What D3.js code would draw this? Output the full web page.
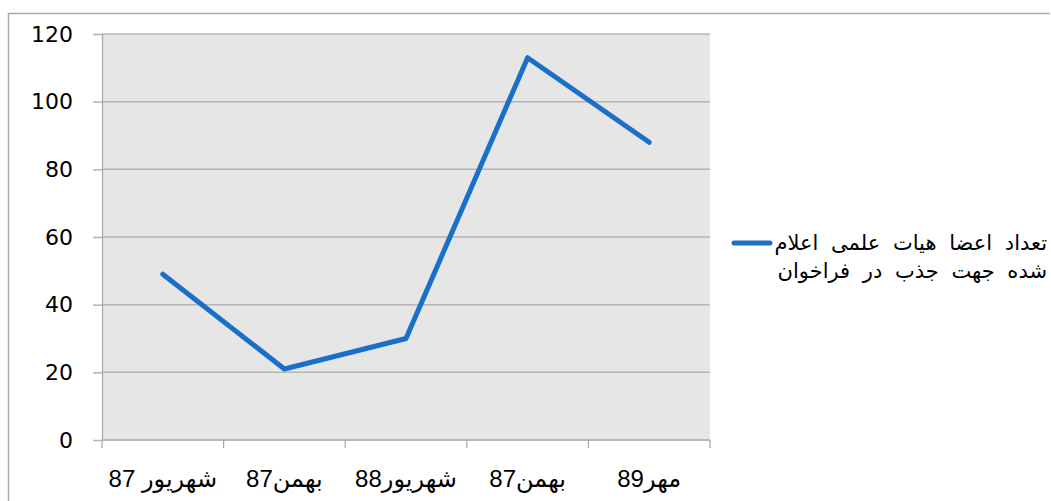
<!DOCTYPE html>
<html>
<head>
	<meta charset="utf-8">
	<script src="https://d3js.org/d3.v7.min.js"></script>
	<style>
		body { margin: 0; background: #fff; }
		svg { display: block; }
	</style>
</head>
<body>
	<svg id="chart" width="1051" height="501"></svg>
<script type="text/javascript">
	// data
	var categories = ['شهریور 87', 'بهمن87', 'شهریور88', 'بهمن87 ', 'مهر89'];
	var values = [49, 21, 30, 113, 88];
	var yTicks = [0, 20, 40, 60, 80, 100, 120];
	var legendLines = ['تعداد اعضا هیات علمی اعلام', 'شده جهت جذب در فراخوان'];

	var svg = d3.select('#chart');
	var plotL = 102, plotR = 710, plotT = 34, plotB = 440;

	// outer frame (only top and left edges visible)
	svg.append('path')
		.attr('d', 'M 8.5 501 L 8.5 13.5 L 1050 13.5')
		.attr('fill', 'none')
		.attr('stroke', '#a8a8a8')
		.attr('stroke-width', 1.5);

	var x = d3.scaleBand().domain(d3.range(categories.length)).range([plotL, plotR]);
	var y = d3.scaleLinear().domain([0, 120]).range([plotB, plotT]);

	svg.append('rect')
		.attr('x', plotL).attr('y', plotT)
		.attr('width', plotR - plotL).attr('height', plotB - plotT)
		.attr('fill', '#e6e6e6');

	// grid lines
	svg.append('g').selectAll('line')
		.data(yTicks)
		.enter().append('line')
		.attr('x1', plotL).attr('x2', plotR)
		.attr('y1', d => y(d)).attr('y2', d => y(d))
		.attr('stroke', '#b4b4b4')
		.attr('stroke-width', 1.5);

	// y axis
	var yAxis = svg.append('g')
		.attr('transform', 'translate(' + plotL + ',0)')
		.call(d3.axisLeft(y).tickValues(yTicks).tickSize(9).tickPadding(20));
	yAxis.select('.domain').attr('stroke', '#a6a6a6').attr('stroke-width', 1.2);
	yAxis.selectAll('.tick line').attr('stroke', '#b4b4b4').attr('stroke-width', 1.5);
	yAxis.selectAll('.tick text')
		.style('font-family', '"DejaVu Sans", sans-serif')
		.style('font-size', '22px')
		.attr('fill', '#000');

	// x axis: ticks between categories
	var xAxisG = svg.append('g');
	xAxisG.append('line')
		.attr('x1', plotL).attr('x2', plotR)
		.attr('y1', plotB).attr('y2', plotB)
		.attr('stroke', '#b4b4b4').attr('stroke-width', 1.5);
	xAxisG.selectAll('line.tk')
		.data(d3.range(categories.length + 1))
		.enter().append('line')
		.attr('class', 'tk')
		.attr('x1', i => i < categories.length ? x(i) : x(i - 1) + x.bandwidth())
		.attr('x2', i => i < categories.length ? x(i) : x(i - 1) + x.bandwidth())
		.attr('y1', plotB).attr('y2', plotB + 8)
		.attr('stroke', '#a6a6a6').attr('stroke-width', 1.2);
	xAxisG.selectAll('text')
		.data(categories)
		.enter().append('text')
		.attr('x', (d, i) => x(i) + x.bandwidth() / 2)
		.attr('y', 487)
		.attr('text-anchor', 'middle')
		.style('font-family', '"Liberation Sans", "DejaVu Sans", sans-serif')
		.style('font-size', '24px')
		.attr('fill', '#000')
		.text(d => d);

	// series line
	var line = d3.line()
		.x((d, i) => x(i) + x.bandwidth() / 2)
		.y(d => y(d));
	svg.append('path')
		.datum(values)
		.attr('d', line)
		.attr('fill', 'none')
		.attr('stroke', '#1a6fc8')
		.attr('stroke-width', 5)
		.attr('stroke-linecap', 'round')
		.attr('stroke-linejoin', 'round');

	// legend
	svg.append('line')
		.attr('x1', 734).attr('x2', 770)
		.attr('y1', 243).attr('y2', 243)
		.attr('stroke', '#1a6fc8')
		.attr('stroke-width', 5)
		.attr('stroke-linecap', 'round');
	svg.append('g').selectAll('text')
		.data(legendLines)
		.enter().append('text')
		.attr('x', 1047)
		.attr('y', (d, i) => 250 + i * 28)
		.attr('text-anchor', 'end')
		.style('font-family', '"DejaVu Sans", sans-serif')
		.style('font-size', '21px')
		.style('word-spacing', '6px')
		.attr('fill', '#000')
		.text(d => d);
</script>
</body>
</html>
